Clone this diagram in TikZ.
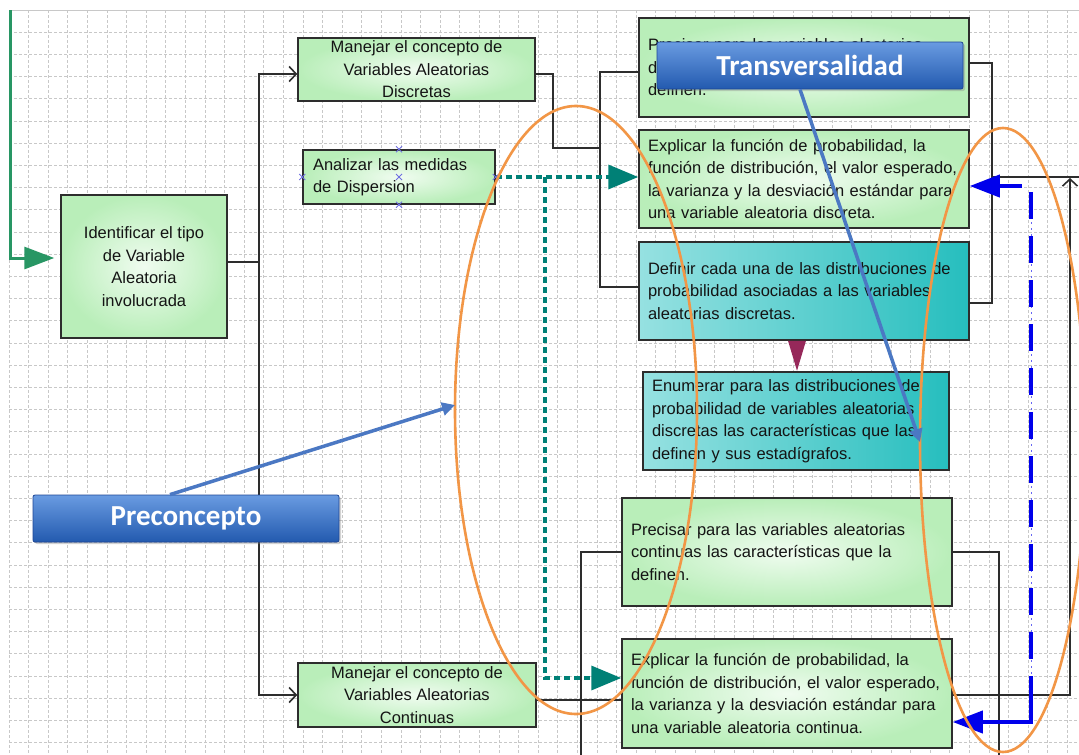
\documentclass[tikz,border=0pt]{standalone}
\usepackage{fontspec}
\setmainfont{Liberation Sans}
\newfontfamily\tagfont{Carlito}
\usetikzlibrary{arrows.meta,shadows}

\definecolor{gridgray}{RGB}{200,200,200}
\definecolor{linegray}{RGB}{45,45,45}
\definecolor{greenin}{RGB}{240,252,240}
\definecolor{greenout}{RGB}{185,238,185}
\definecolor{tealin}{RGB}{150,225,225}
\definecolor{tealout}{RGB}{38,190,190}
\definecolor{tagtop}{RGB}{105,155,225}
\definecolor{tagbot}{RGB}{35,90,175}
\definecolor{tagedge}{RGB}{30,70,150}
\definecolor{steel}{RGB}{75,120,195}
\definecolor{ovalorange}{RGB}{242,150,70}
\definecolor{tealpath}{RGB}{0,128,118}
\definecolor{feedgreen}{RGB}{40,150,100}
\definecolor{linkblue}{RGB}{0,0,235}
\definecolor{pointer}{RGB}{150,40,90}
\definecolor{handle}{RGB}{110,110,225}

\newcommand\bxfont{\fontsize{16.5}{22.5}\selectfont\hyphenpenalty=10000}

\begin{document}
\begin{tikzpicture}[x=1pt,y=-1pt,
  gridline/.style={gridgray, line width=0.7pt, dash pattern=on 3pt off 2pt},
  conn/.style={linegray, line width=1.6pt},
  openhead/.style={-{Straight Barb[length=7pt,width=15pt]}},
  box/.style={draw=linegray, line width=1.5pt, font=\bxfont, text=black!92, inner sep=0pt},
  greenbox/.style={box, inner color=greenin, outer color=greenout},
  tealbox/.style={box, left color=tealin, right color=tealout},
  tag/.style={draw=tagedge, line width=0.8pt, rounded corners=2pt,
    top color=tagtop, bottom color=tagbot, text=white,
    font=\tagfont\bfseries\fontsize{29}{29}\selectfont,
    minimum width=306pt, minimum height=47pt,
    drop shadow={opacity=0.35,shadow xshift=2pt,shadow yshift=-2pt}},
  tagarrow/.style={steel, line width=3.5pt, -{Triangle[length=13pt,width=13pt]}},
  oval/.style={ovalorange, line width=2.6pt},
  tealdots/.style={tealpath, line width=3.5pt, dash pattern=on 6pt off 4pt,
    -{Triangle[length=30pt,width=24pt]}},
  bluelink/.style={linkblue, line width=4pt},
  bluehead/.style={-{Triangle[length=30pt,width=22pt]}},
  feedline/.style={feedgreen, line width=3pt, -{Triangle[length=30pt,width=22pt]}},
  handlemark/.style={handle, line width=1pt}]

\clip (0,0) rectangle (1079,755);
\fill[white] (0,0) rectangle (1079,755);

% background grid
\foreach \i in {0,...,54} \draw[gridline] ({9+19.6*\i},10) -- ({9+19.6*\i},755);
\foreach \j in {1,...,34} \draw[gridline] (9,{10+22.2*\j}) -- (1079,{10+22.2*\j});
\draw[gridgray, line width=0.8pt] (9,10) -- (1079,10);

% boxes
\node[greenbox, minimum width=166pt, minimum height=143pt, align=center] (ident) at (144,266.5)
  {Identificar el tipo\\de Variable\\Aleatoria\\involucrada};
\node[greenbox, minimum width=237pt, minimum height=63pt, align=center] (mdisc) at (416.5,69.5)
  {Manejar el concepto de\\Variables Aleatorias\\Discretas};
\node[greenbox, minimum width=192pt, minimum height=54pt, text width=172pt, align=left] (anal) at (399,177)
  {Analizar las medidas\\de Dispersion};
\node[greenbox, minimum width=238pt, minimum height=64pt, align=center] (mcont) at (417,695)
  {Manejar el concepto de\\Variables Aleatorias\\Continuas};
\node[greenbox, minimum width=330pt, minimum height=99pt, text width=312pt, align=left] (pdisc) at (804,67.5)
  {Precisar para las variables aleatorias\\discretas las características que la\\definen.};
\node[greenbox, minimum width=330pt, minimum height=98pt, text width=312pt, align=left] (edisc) at (804,179)
  {Explicar la función de probabilidad, la\\función de distribución, el valor esperado,\\la varianza y la desviación estándar para\\una variable aleatoria discreta.};
\node[tealbox, minimum width=330pt, minimum height=98pt, text width=312pt, align=left] (defin) at (804,291)
  {Definir cada una de las distribuciones de\\probabilidad asociadas a las variables\\aleatorias discretas.};
\node[tealbox, minimum width=306pt, minimum height=98pt, text width=288pt, align=left] (enum) at (796,421)
  {Enumerar para las distribuciones de\\probabilidad de variables aleatorias\\discretas las características que las\\definen y sus estadígrafos.};
\node[greenbox, minimum width=330pt, minimum height=108pt, text width=312pt, align=left] (pcnt) at (787,552)
  {Precisar para las variables aleatorias\\continuas las características que la\\definen.};
\node[greenbox, minimum width=330pt, minimum height=109pt, text width=312pt, align=left] (ecnt) at (787,693.5)
  {Explicar la función de probabilidad, la\\función de distribución, el valor esperado,\\la varianza y la desviación estándar para\\una variable aleatoria continua.};

% junction points
\coordinate (gtop) at (10,10);
\coordinate (trunk) at (259,262);
\coordinate (bend) at (553,148);
\coordinate (trunkb) at (600,148);
\coordinate (rjoin) at (992,303);
\coordinate (rtee) at (992,177);
\coordinate (rexit) at (1079,177);
\coordinate (rtop) at (1070,178);
\coordinate (lbot) at (581,755);
\coordinate (rbot) at (999,755);
\coordinate (tsplit) at (545,177);
\coordinate (btop) at (1031,192);
\coordinate (bcorner) at (1031,693);
\coordinate (bstart) at (1022,186);
\coordinate (pretip) at (455,405);
\coordinate (tratip) at (920,442);

% incoming flow
\draw[feedline, shorten >=6pt] (gtop) |- ([yshift=8.5pt]ident.west);

% black connectors
\draw[conn] ([yshift=4.5pt]ident.east) -- (trunk);
\draw[conn, openhead] (trunk) |- ([yshift=-4.5pt]mdisc.west);
\draw[conn, openhead] (trunk) |- (mcont.west);
\draw[conn] ([yshift=-4.5pt]mdisc.east) -| (bend) -- (trunkb);
\draw[conn] ([yshift=-4.5pt]pdisc.west) -| (trunkb) |- ([yshift=4pt]defin.west);
\draw[conn] ([yshift=4.5pt]pdisc.east) -| (rjoin) -- ([yshift=-12pt]defin.east);
\draw[conn] (rtee) -- (rexit);
\draw[conn] ([yshift=-5pt]mcont.east) -- ([yshift=-5pt]mcont.east -| ecnt.west);
\draw[conn] (lbot) |- (pcnt.west);
\draw[conn] (pcnt.east) -| (rbot);
\draw[conn, openhead] ([yshift=-1.5pt]ecnt.east) -| (rtop);

% pointer between the discrete distribution boxes
\fill[pointer] ([xshift=-16pt]defin.south) -- ([xshift=2pt]defin.south)
  -- ([xshift=-7pt,yshift=-30pt]defin.south) -- cycle;

% dotted teal links
\draw[tealdots] (anal.east) -- (anal.east -| edisc.west);
\draw[tealdots] (tsplit) |- ([yshift=15.5pt]ecnt.west);

% blue links
\draw[linkblue!60, line width=1pt, dash pattern=on 2pt off 4pt] (btop) -- (bcorner);
\draw[bluelink, line width=3.5pt, dash pattern=on 27pt off 17pt] (btop) -- (bcorner);
\draw[bluelink, bluehead] (bcorner) |- ([yshift=-28.5pt]ecnt.east);
\draw[bluelink, bluehead] (bstart) -- (bstart -| edisc.east);

% selection handles
\foreach \a in {west,north,center,south,east}
  \draw[handlemark] (anal.\a) +(-3,-3) -- +(3,3) +(-3,3) -- +(3,-3);

% orange ovals
\draw[oval] (576,410) ellipse [x radius=121, y radius=304];
\draw[oval] (1003,440) ellipse [x radius=83, y radius=312];

% tags
\node[tag] (trans) at (810,65.5) {Transversalidad};
\draw[tagarrow] ([xshift=-10pt]trans.south) -- (tratip);
\node[tag] (prec) at (186,518.5) {Preconcepto};
\draw[tagarrow] ([xshift=-16pt]prec.north) -- (pretip);
\end{tikzpicture}
\end{document}
